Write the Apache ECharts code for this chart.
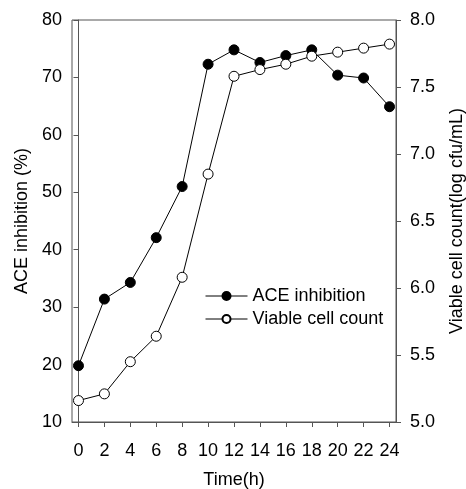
<!DOCTYPE html>
<html>
<head>
<meta charset="utf-8">
<script src="https://cdn.jsdelivr.net/npm/echarts@6/dist/echarts.min.js"></script>
<style>
  html, body { margin: 0; padding: 0; background: #fff; }
  #chart { width: 466px; height: 489px; }
</style>
</head>
<body>
<div id="chart"></div>
<script>
const hours = [0, 2, 4, 6, 8, 10, 12, 14, 16, 18, 20, 22, 24]
const aceInhibition = [19.8, 31.4, 34.3, 42.1, 51.0, 72.3, 74.8, 72.6, 73.8, 74.8, 70.4, 69.9, 64.9]
const viableCount = [5.16, 5.21, 5.45, 5.64, 6.08, 6.85, 7.58, 7.63, 7.67, 7.73, 7.76, 7.79, 7.82]

const font = 'Liberation Sans, Arial, sans-serif'
const axisGray = '#555'

const pair = (vals) => hours.map((h, i) => [h, vals[i]])

const option = {
  animation: false,
  textStyle: { fontFamily: font, color: '#000' },
  grid: {
    left: 72,
    right: 70,
    top: 20,
    bottom: 67,
    outerBoundsMode: 'none',
    show: true,
    borderColor: axisGray,
    borderWidth: 1,
  },
  legend: {
    orient: 'vertical',
    left: 200,
    top: 282,
    itemWidth: 42,
    itemHeight: 10,
    itemGap: 5,
    lineStyle: { width: 1 },
    textStyle: { fontFamily: font, fontSize: 18, color: '#000' },
    data: ['ACE inhibition', 'Viable cell count'],
  },
  xAxis: {
    type: 'value',
    min: -0.5,
    max: 24.5,
    name: 'Time(h)',
    nameLocation: 'middle',
    nameGap: 49,
    nameTextStyle: { fontSize: 18, color: '#000' },
    splitLine: { show: false },
    axisLine: { lineStyle: { color: axisGray } },
    axisTick: { customValues: hours, length: 5, lineStyle: { color: axisGray } },
    axisLabel: { customValues: hours, fontSize: 18, color: '#000', margin: 20 },
  },
  yAxis: [
    {
      type: 'value',
      min: 10,
      max: 80,
      interval: 10,
      name: 'ACE inhibition (%)',
      nameLocation: 'middle',
      nameGap: 36,
      nameTextStyle: { fontSize: 18, color: '#000' },
      splitLine: { show: false },
      axisLine: { show: true, lineStyle: { color: axisGray } },
      axisTick: { show: true, length: 5, lineStyle: { color: axisGray } },
      axisLabel: { fontSize: 18, color: '#000', margin: 10 },
    },
    {
      type: 'value',
      min: 5,
      max: 8,
      interval: 0.5,
      position: 'right',
      name: 'Viable cell count(log cfu/mL)',
      nameLocation: 'middle',
      nameGap: 52,
      nameRotate: 90,
      nameTextStyle: { fontSize: 18, color: '#000' },
      splitLine: { show: false },
      axisLine: { show: true, lineStyle: { color: axisGray } },
      axisTick: { show: true, length: 5, lineStyle: { color: axisGray } },
      axisLabel: { fontSize: 18, color: '#000', margin: 14, formatter: (v) => v.toFixed(1) },
    },
  ],
  series: [
    {
      name: 'ACE inhibition',
      type: 'line',
      yAxisIndex: 0,
      data: pair(aceInhibition),
      symbol: 'circle',
      symbolSize: 10,
      itemStyle: { color: '#000', borderColor: '#000', borderWidth: 1 },
      lineStyle: { color: '#000', width: 1 },
    },
    {
      name: 'Viable cell count',
      type: 'line',
      yAxisIndex: 1,
      data: pair(viableCount),
      symbol: 'circle',
      symbolSize: 10,
      itemStyle: { color: '#fff', borderColor: '#000', borderWidth: 1 },
      lineStyle: { color: '#000', width: 1 },
    },
  ],
}

const chart = echarts.init(document.getElementById('chart'))
chart.setOption(option)
</script>
</body>
</html>
